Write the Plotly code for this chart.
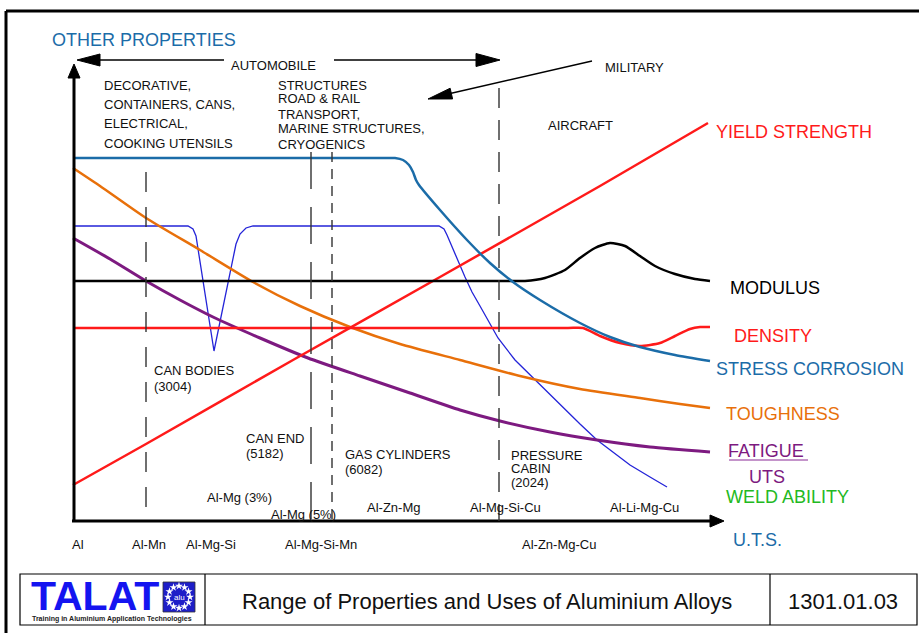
import math
import plotly.graph_objects as go

FONT = "Liberation Sans, Arial, Helvetica, sans-serif"

# ---------------- data (chart units: x = position along alloy axis, y = property level) -------------
stress_x = [0, 160, 310, 322, 330, 336, 340, 343, 346, 367, 394, 417, 440, 467, 507, 537, 567, 602, 637]
stress_y = [363, 363, 363, 363, 361, 356, 349, 341, 336, 311, 281, 258, 239, 221, 198, 184, 174, 166, 160]

modulus_x = [0, 250, 440, 452, 472, 492, 507, 522, 537, 552, 567, 582, 602, 622, 637]
modulus_y = [240, 240, 240, 240, 243, 251, 263, 273, 278, 275, 265, 255, 247, 242, 240]

density_x = [0, 250, 495, 510, 527, 547, 567, 587, 602, 617, 627, 637]
density_y = [193, 193, 193, 193, 185, 178, 175, 178, 185, 192, 194, 194]

yield_x = [0, 73, 220, 367, 527, 635]
yield_y = [36, 77, 161, 244, 335, 398]

tough_x = [0, 27, 73, 127, 180, 227, 277, 327, 387, 447, 507, 567, 607, 637]
tough_y = [353, 335, 303, 271, 239, 215, 194, 177, 161, 145, 132, 123, 117, 113]

fatigue_x = [0, 37, 73, 107, 140, 187, 235, 287, 337, 387, 427, 477, 524, 577, 637]
fatigue_y = [283, 262, 240, 221, 204, 183, 163, 145, 128, 111, 100, 89, 81, 74, 69]

weld_x = [0, 115, 120, 123, 141, 163, 167, 173, 180, 366, 371, 374, 392, 399, 407, 417, 425,
          442, 462, 487, 507, 524, 542, 557, 577, 594]
weld_y = [295, 295, 292, 285, 170, 277, 287, 293, 295, 295, 292, 286, 244, 229, 215, 198, 183,
          161, 141, 116, 97, 81, 67, 56, 44, 34]

property_names = ["YIELD STRENGTH", "MODULUS", "DENSITY", "STRESS CORROSION", "TOUGHNESS",
                  "FATIGUE", "UTS", "WELD ABILITY", "U.T.S."]
alloy_labels_low = ["Al", "Al-Mn", "Al-Mg-Si", "Al-Mg-Si-Mn", "Al-Zn-Mg-Cu"]
alloy_labels_up = ["Al-Mg (3%)", "Al-Mg (5%)", "Al-Zn-Mg", "Al-Mg-Si-Cu", "Al-Li-Mg-Cu"]

# ---------------- helpers for layout positions (pixel -> chart units) ----------------
def X(px):
    return px - 73


def Y(py):
    return 521 - py


BLUE = "#1B6CA8"
RED = "#FF1A1A"
ORANGE = "#E8700A"
PURPLE = "#7D1A80"
THIN = "#2424D8"
GREEN = "#22B922"

fig = go.Figure()


def curve(xs, ys, color, width, shape="spline"):
    ln = dict(color=color, width=width, shape=shape)
    if shape == "spline":
        ln["smoothing"] = 0.6
    fig.add_trace(go.Scatter(x=xs, y=ys, mode="lines", hoverinfo="skip", line=ln))


curve(weld_x, weld_y, THIN, 1.3, "linear")
curve(tough_x, tough_y, ORANGE, 2.5)
curve(fatigue_x, fatigue_y, PURPLE, 3)
curve(yield_x, yield_y, RED, 2.5)
curve(density_x, density_y, RED, 2.5)
curve(modulus_x, modulus_y, "black", 2.5)
curve(stress_x, stress_y, BLUE, 2.5)

shapes = []


def line(x0, y0, x1, y1, color="black", width=1.3, dash=None):
    d = dict(type="line", x0=X(x0), y0=Y(y0), x1=X(x1), y1=Y(y1),
             line=dict(color=color, width=width))
    if dash:
        d["line"]["dash"] = dash
    shapes.append(d)


def head(tip, frm, length, hw, color="black"):
    tx, ty = tip
    fx, fy = frm
    dx, dy = tx - fx, ty - fy
    L = math.hypot(dx, dy)
    ux, uy = dx / L, dy / L
    bx, by = tx - ux * length, ty - uy * length
    nx, ny = -uy * hw, ux * hw
    path = "M {} {} L {} {} L {} {} Z".format(X(tx), Y(ty), X(bx + nx), Y(by + ny),
                                             X(bx - nx), Y(by - ny))
    shapes.append(dict(type="path", path=path, fillcolor=color,
                       line=dict(color=color, width=1)))


# outer frame
line(6, 11, 6, 640, width=3)
line(6, 11, 925, 11, width=3)

# axes
line(74, 522, 74, 76, width=3)
head((74, 64), (74, 200), 14, 6)
line(72, 521, 712, 521, width=3)
head((724, 521), (600, 521), 14, 6)

# automobile double arrow
line(95, 60, 224, 60, width=1.3)
line(334, 60, 480, 60, width=1.3)
head((77, 60), (200, 60), 23, 6)
head((500, 60), (400, 60), 24, 6.5)

# military arrow
line(592, 61, 448, 94, width=1.3)
head((428, 99), (592, 61), 24, 5.5)

# dashed separators
line(146, 172, 146, 521, color="#333333", width=1.4, dash="20px,15px")
line(311, 152, 311, 521, color="#333333", width=1.4, dash="37px,18px")
line(332, 152, 332, 521, color="#333333", width=1.4, dash="10px,7px")
line(499, 88, 499, 521, color="#333333", width=1.4, dash="20px,12px")

# fatigue underline
line(729, 460, 808, 460, color="#B070B8", width=1.5)

# footer box
shapes.append(dict(type="rect", x0=X(20), y0=Y(574), x1=X(917), y1=Y(625),
                   line=dict(color="black", width=1.2)))
line(205, 574, 205, 625, width=1.2)
line(770, 574, 770, 625, width=1.2)
# EU flag square (below the star markers)
shapes.append(dict(type="rect", x0=X(163), y0=Y(582), x1=X(195), y1=Y(612), layer="below",
                   fillcolor="#1E1EC8", line=dict(color="#333333", width=0.8)))

annotations = []


def text(s, x, y, size=13, color="#111111", anchor="left", bold=False):
    annotations.append(dict(text=("<b>%s</b>" % s) if bold else s, x=X(x), y=Y(y),
                            xanchor=anchor, yanchor="middle", showarrow=False,
                            font=dict(family=FONT, size=size, color=color)))


# small black texts
text("AUTOMOBILE", 229, 65)
text("MILITARY", 603, 67)
for s, yy in zip(["DECORATIVE,", "CONTAINERS, CANS,", "ELECTRICAL,", "COOKING UTENSILS"],
                 [85, 104, 123, 143]):
    text(s, 102, yy)
for s, yy in zip(["STRUCTURES", "ROAD & RAIL", "TRANSPORT,", "MARINE STRUCTURES,", "CRYOGENICS"],
                 [85, 98, 114, 128, 144]):
    text(s, 276, yy)
text("AIRCRAFT", 546, 125)
text("CAN BODIES", 152, 370)
text("(3004)", 152, 386)
text("CAN END", 244, 438)
text("(5182)", 244, 453)
text("GAS CYLINDERS", 343, 454)
text("(6082)", 343, 469)
text("PRESSURE", 509, 455)
text("CABIN", 509, 468)
text("(2024)", 509, 482)

for s, xx, yy in zip(alloy_labels_up, [205, 269, 365, 468, 608], [497, 514, 507, 507, 507]):
    text(s, xx, yy)
for s, xx in zip(alloy_labels_low, [70, 130, 184, 283, 520]):
    text(s, xx, 544)

# big coloured labels
text("OTHER PROPERTIES", 50, 40, 18, BLUE)
label_pos = [(714, 132), (728, 288), (732, 336), (714, 369), (724, 414),
             (726, 451), (747, 477), (724, 497), (731, 540)]
label_col = [RED, "black", RED, BLUE, ORANGE, PURPLE, PURPLE, GREEN, BLUE]
for s, (xx, yy), c in zip(property_names, label_pos, label_col):
    text(s, xx, yy, 18, c)

# footer texts
text("TALAT", 95, 596, 41, "#1414F0", anchor="center", bold=True)
text("Training in Aluminium Application Technologies", 112, 619, 7, "#222222",
     anchor="center", bold=True)
text("Range of Properties and Uses of Aluminium Alloys", 487, 601, 22, "#111111", anchor="center")
text("1301.01.03", 843, 601, 22, "#111111", anchor="center")
text("alu", 179, 597, 8, "white", anchor="center")

# stars of the logo
sx, sy = [], []
for k in range(12):
    a = 2 * math.pi * k / 12
    sx.append(X(179 + 11 * math.cos(a)))
    sy.append(Y(597 + 11 * math.sin(a)))
fig.add_trace(go.Scatter(x=sx, y=sy, mode="markers", hoverinfo="skip",
                         marker=dict(symbol="star", size=6, color="white", line=dict(width=0))))

fig.update_layout(
    width=919, height=633, autosize=False,
    margin=dict(l=0, r=0, t=0, b=0, pad=0),
    paper_bgcolor="white", plot_bgcolor="white",
    showlegend=False,
    shapes=shapes, annotations=annotations,
    xaxis=dict(range=[-73, 846], visible=False, showgrid=False, zeroline=False, fixedrange=True),
    yaxis=dict(range=[-112, 521], visible=False, showgrid=False, zeroline=False, fixedrange=True),
)

fig.write_html("out.html", config={"displayModeBar": False},
               post_script="document.body.style.margin='0';document.body.style.padding='0';")
